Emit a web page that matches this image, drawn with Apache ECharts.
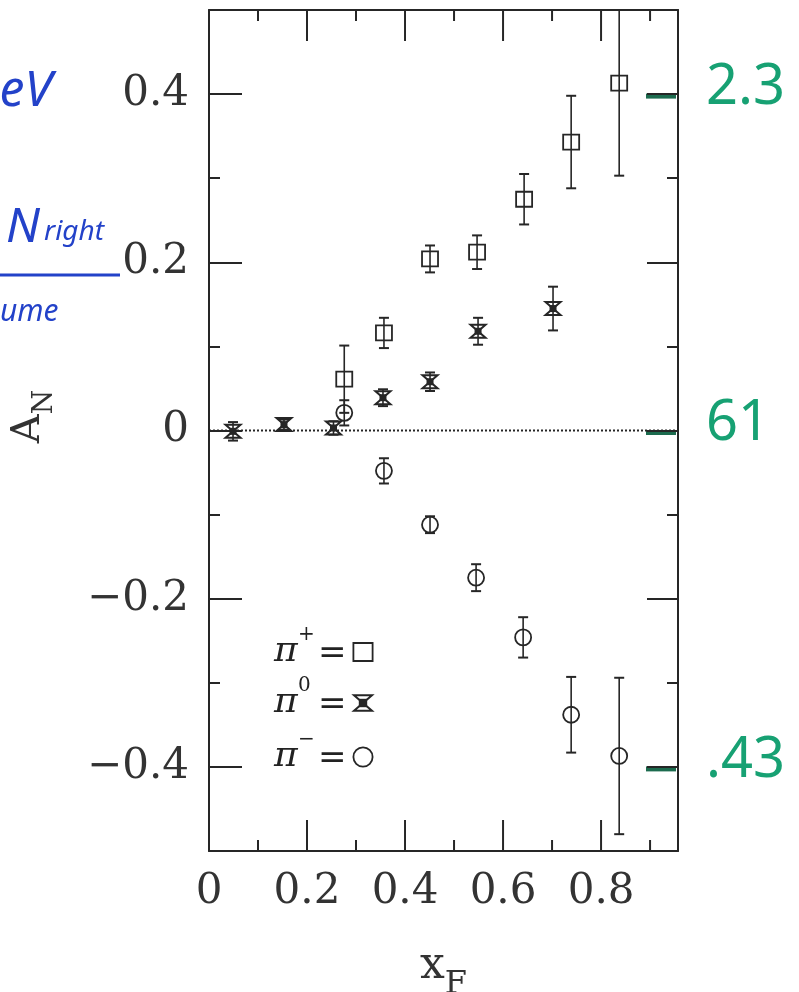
<!DOCTYPE html>
<html>
<head>
<meta charset="utf-8">
<script src="https://cdn.jsdelivr.net/npm/echarts@6/dist/echarts.min.js"></script>
<style>
  html, body { margin: 0; padding: 0; background: #ffffff; }
  #chart { width: 799px; height: 992px; }
</style>
</head>
<body>
<div id="chart"></div>
<script>
// Axis ranges and ticks
const X_MIN = 0;
const X_MAX = 0.957;
const Y_MIN = -0.5;
const Y_MAX = 0.5;
const X_LABEL_STEP = 0.2;
const xMajorTicks = [0.2, 0.4, 0.6, 0.8];
const xMinorTicks = [0.1, 0.3, 0.5, 0.7, 0.9];
const xLabelValues = [0, 0.2, 0.4, 0.6, 0.8];
const xTickLabels = ['0', '0.2', '0.4', '0.6', '0.8'];
const yMajorTicks = [-0.4, -0.2, 0, 0.2, 0.4];
const yMinorTicks = [-0.3, -0.1, 0.1, 0.3];
const yLabelValues = [-0.4, -0.2, 0, 0.2, 0.4];
const yTickLabels = ['\u22120.4', '\u22120.2', '0', '0.2', '0.4'];

// pi+ : x_F, A_N, error
const xfPlus   = [0.276, 0.357, 0.451, 0.547, 0.643, 0.739, 0.837];
const anPlus   = [0.061, 0.116, 0.204, 0.212, 0.275, 0.343, 0.413];
const errPlus  = [0.040, 0.018, 0.016, 0.020, 0.030, 0.055, 0.110];
// pi0
const xfZero   = [0.049, 0.153, 0.254, 0.355, 0.451, 0.549, 0.702];
const anZero   = [-0.001, 0.007, 0.003, 0.039, 0.058, 0.118, 0.145];
const errZero  = [0.011, 0.006, 0.008, 0.010, 0.011, 0.016, 0.026];
// pi-
const xfMinus  = [0.276, 0.357, 0.451, 0.545, 0.641, 0.739, 0.837];
const anMinus  = [0.021, -0.048, -0.112, -0.175, -0.246, -0.338, -0.387];
const errMinus = [0.015, 0.015, 0.010, 0.016, 0.024, 0.045, 0.093];

// zero reference line
const zeroLine = [[X_MIN, 0], [X_MAX, 0]];

// hand-written notes
const noteLevels = [0.4, 0, -0.4];
const noteTexts = ['2.3', '61', '.43'];

const INK = '#262626';
const SERIF = '"DejaVu Serif", "Liberation Serif", serif';
const BLUE = '#2342c9';
const GREEN = '#17a173';

function rows(xs, ys, es) {
  return xs.map((x, i) => [x, ys[i], es[i]]);
}

function markerShape(kind, cx, cy, s) {
  const k = s || 1;
  if (kind === 'square') {
    return { type: 'rect', shape: { x: cx - 8 * k, y: cy - 7.5 * k, width: 16 * k, height: 15 * k },
      style: { fill: 'none', stroke: INK, lineWidth: 1.8 } };
  }
  if (kind === 'circle') {
    return { type: 'circle', shape: { cx: cx, cy: cy, r: 8 * k },
      style: { fill: 'none', stroke: INK, lineWidth: 1.8 } };
  }
  // hourglass cross with a solid core
  return { type: 'group', children: [
    { type: 'polygon', shape: { points: [[cx - 7.5 * k, cy - 6.5 * k], [cx + 7.5 * k, cy - 6.5 * k], [cx - 7.5 * k, cy + 6.5 * k], [cx + 7.5 * k, cy + 6.5 * k]] },
      style: { fill: 'none', stroke: INK, lineWidth: 2 } },
    { type: 'rect', shape: { x: cx - 3.5 * k, y: cy - 3.5 * k, width: 7 * k, height: 7 * k },
      style: { fill: INK } }
  ] };
}

function errorBarRenderer(kind) {
  return function (params, api) {
    const x = api.value(0), y = api.value(1), e = api.value(2);
    const c = api.coord([x, y]);
    const top = api.coord([x, y + e]);
    const bot = api.coord([x, y - e]);
    const cap = 5;
    return { type: 'group', children: [
      { type: 'line', shape: { x1: c[0], y1: top[1], x2: c[0], y2: bot[1] }, style: { stroke: INK, lineWidth: 1.6 } },
      { type: 'line', shape: { x1: c[0] - cap, y1: top[1], x2: c[0] + cap, y2: top[1] }, style: { stroke: INK, lineWidth: 2 } },
      { type: 'line', shape: { x1: c[0] - cap, y1: bot[1], x2: c[0] + cap, y2: bot[1] }, style: { stroke: INK, lineWidth: 2 } },
      markerShape(kind, c[0], c[1])
    ] };
  };
}

// inward ticks on the top and bottom frame edges, placed through the x scale
function frameTickRenderer(len) {
  return function (params, api) {
    const v = api.value(0);
    const b = api.coord([v, Y_MIN]);
    const t = api.coord([v, Y_MAX]);
    return { type: 'group', children: [
      { type: 'line', shape: { x1: b[0], y1: b[1], x2: b[0], y2: b[1] - len }, style: { stroke: INK, lineWidth: 2 } },
      { type: 'line', shape: { x1: t[0], y1: t[1], x2: t[0], y2: t[1] + len }, style: { stroke: INK, lineWidth: 2 } }
    ] };
  };
}

function labelFor(values, labels) {
  return function (v) {
    const i = values.findIndex(t => Math.abs(t - v) < 1e-9);
    return i >= 0 ? labels[i] : '';
  };
}

// vertical frame edges: ticks at listed values
function yAxisDef(position, ticks, len, major, withLabels) {
  const ax = {
    type: 'value', position: position, min: Y_MIN, max: Y_MAX,
    axisLine: { show: major, onZero: false, lineStyle: { color: INK, width: 2 } },
    axisTick: { show: true, inside: true, length: len, customValues: ticks.slice(), lineStyle: { color: INK, width: 2 } },
    axisLabel: { show: false },
    splitLine: { show: false }
  };
  if (withLabels) {
    ax.axisLabel = {
      show: true, customValues: yLabelValues.slice(), formatter: labelFor(yLabelValues, yTickLabels),
      fontFamily: SERIF, fontSize: 42, color: '#333', margin: 20
    };
  }
  return ax;
}

const xAxes = [
  {
    type: 'value', position: 'bottom', min: X_MIN, max: X_MAX, interval: X_LABEL_STEP,
    axisLine: { show: true, onZero: false, lineStyle: { color: INK, width: 2 } },
    axisTick: { show: false },
    axisLabel: {
      show: true, showMaxLabel: false, formatter: labelFor(xLabelValues, xTickLabels),
      fontFamily: SERIF, fontSize: 42, color: '#333', margin: 20
    },
    splitLine: { show: false },
    name: '{a|x}{f|F}',
    nameLocation: 'middle',
    nameGap: 94,
    nameTextStyle: {
      rich: {
        a: { fontFamily: SERIF, fontSize: 44, color: '#333', verticalAlign: 'bottom', padding: [0, 0, 12, 0] },
        f: { fontFamily: SERIF, fontSize: 32, color: '#333', verticalAlign: 'bottom' }
      }
    }
  },
  {
    type: 'value', position: 'top', min: X_MIN, max: X_MAX,
    axisLine: { show: true, onZero: false, lineStyle: { color: INK, width: 2 } },
    axisTick: { show: false },
    axisLabel: { show: false },
    splitLine: { show: false }
  }
];

const yAxes = [
  yAxisDef('left', yMajorTicks, 33, true, true),
  yAxisDef('left', yMinorTicks, 11, false, false),
  yAxisDef('right', yMajorTicks, 31, true, false),
  yAxisDef('right', yMinorTicks, 11, false, false)
];
yAxes[0].name = '{a|A}{n|N}';
yAxes[0].nameLocation = 'middle';
yAxes[0].nameRotate = 90;
yAxes[0].nameGap = 150;
yAxes[0].nameTextStyle = {
  padding: [0, 0, 0, 28],
  rich: {
    a: { fontFamily: SERIF, fontSize: 40, color: '#333', verticalAlign: 'bottom', padding: [0, 0, 10, 0] },
    n: { fontFamily: SERIF, fontSize: 28, color: '#333', verticalAlign: 'bottom' }
  }
};

const chart = echarts.init(document.getElementById('chart'), null, { renderer: 'canvas' });

chart.setOption({
  animation: false,
  backgroundColor: '#ffffff',
  grid: { left: 209, right: 121, top: 10, bottom: 141, outerBoundsMode: 'none' },
  xAxis: xAxes,
  yAxis: yAxes,
  series: [
    {
      name: 'x major ticks', type: 'custom', data: xMajorTicks.map(v => [v, 0]), silent: true, z: 2,
      renderItem: frameTickRenderer(31), encode: { x: 0, y: 1 }
    },
    {
      name: 'x minor ticks', type: 'custom', data: xMinorTicks.map(v => [v, 0]), silent: true, z: 2,
      renderItem: frameTickRenderer(11), encode: { x: 0, y: 1 }
    },
    {
      name: 'zero', type: 'line', data: zeroLine, symbol: 'none', silent: true, z: 1,
      lineStyle: { color: INK, width: 2, type: [2, 2] }
    },
    {
      name: '\u03c0+', type: 'custom', data: rows(xfPlus, anPlus, errPlus), clip: true,
      renderItem: errorBarRenderer('square'), encode: { x: 0, y: 1 }, z: 3
    },
    {
      name: '\u03c00', type: 'custom', data: rows(xfZero, anZero, errZero), clip: true,
      renderItem: errorBarRenderer('cross'), encode: { x: 0, y: 1 }, z: 3
    },
    {
      name: '\u03c0\u2212', type: 'custom', data: rows(xfMinus, anMinus, errMinus), clip: true,
      renderItem: errorBarRenderer('circle'), encode: { x: 0, y: 1 }, z: 3
    }
  ]
});

// key: pi+ = square, pi0 = cross, pi- = circle
const keyRows = [
  { sup: '+', kind: 'square', y: 652 },
  { sup: '0', kind: 'cross', y: 703 },
  { sup: '\u2212', kind: 'circle', y: 757 }
];
const keyGraphics = [];
keyRows.forEach(r => {
  keyGraphics.push({ type: 'text', x: 274, y: r.y, style: { text: '\u03c0', font: 'italic 36px ' + SERIF, fill: '#222', textVerticalAlign: 'middle' } });
  keyGraphics.push({ type: 'text', x: 298, y: r.y - 17, style: { text: r.sup, font: '20px ' + SERIF, fill: '#222', textVerticalAlign: 'middle' } });
  keyGraphics.push({ type: 'text', x: 318, y: r.y + 2, style: { text: '=', font: '34px ' + SERIF, fill: '#222', textVerticalAlign: 'middle' } });
  keyGraphics.push(markerShape(r.kind, 363, r.y, 1.2));
});

// margin notes
const notes = [];
notes.push({ type: 'text', x: 52, y: 92, style: { text: 'eV', font: 'italic 50px "Noto Sans", sans-serif', fill: BLUE, textAlign: 'right', textVerticalAlign: 'middle' } });
notes.push({ type: 'text', x: 6, y: 228, style: { text: 'N', font: 'italic 48px "Noto Sans", sans-serif', fill: BLUE, textVerticalAlign: 'middle' } });
notes.push({ type: 'text', x: 44, y: 232, style: { text: 'right', font: 'italic 28px "Noto Sans", sans-serif', fill: BLUE, textVerticalAlign: 'middle' } });
notes.push({ type: 'line', shape: { x1: 0, y1: 275, x2: 120, y2: 275 }, style: { stroke: BLUE, lineWidth: 3 } });
notes.push({ type: 'text', x: 0, y: 312, style: { text: 'ume', font: 'italic 30px "Noto Sans", sans-serif', fill: BLUE, textVerticalAlign: 'middle' } });
noteLevels.forEach((lv, i) => {
  const py = chart.convertToPixel({ yAxisIndex: 0 }, lv);
  notes.push({ type: 'line', shape: { x1: 646, y1: py + 2, x2: 676, y2: py + 2 }, style: { stroke: '#1c6b4e', lineWidth: 5 } });
  notes.push({ type: 'text', x: 706, y: py - 6, style: { text: noteTexts[i], font: '56px "Noto Sans", sans-serif', fill: GREEN, textVerticalAlign: 'middle' } });
});

chart.setOption({ graphic: keyGraphics.concat(notes) });
</script>
</body>
</html>
